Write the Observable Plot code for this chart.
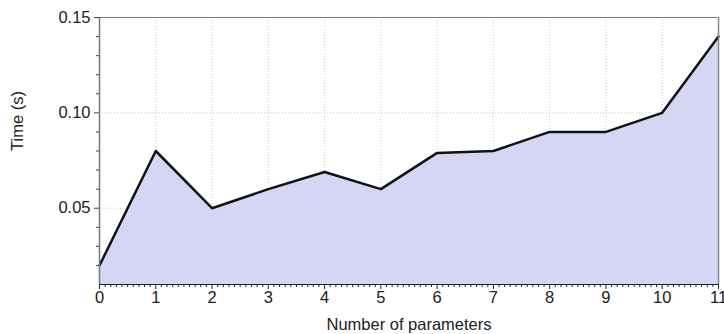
<!DOCTYPE html>
<html>
<head>
<meta charset="utf-8">
<script src="https://cdn.jsdelivr.net/npm/d3@7"></script>
<script src="https://cdn.jsdelivr.net/npm/@observablehq/plot@0.6"></script>
<style>
  html, body { margin: 0; padding: 0; background: #fff; }
  #chart svg { display: block; }
</style>
</head>
<body>
<div id="chart"></div>
<script>
const params = [0, 1, 2, 3, 4, 5, 6, 7, 8, 9, 10, 11];
const times = [0.02, 0.08, 0.05, 0.06, 0.069, 0.06, 0.079, 0.08, 0.09, 0.09, 0.10, 0.14];
const yMajorTicks = [0.05, 0.10, 0.15];
const yMinorTicks = [0.02, 0.03, 0.04, 0.06, 0.07, 0.08, 0.09, 0.11, 0.12, 0.13, 0.14];
const xMajorTicks = params;
const xMinorTicks = d3.range(0, 110).filter(i => i % 10 !== 0).map(i => i / 10);
const yDomain = [0.01, 0.15];
const xDomain = [0, 11];
const xLabel = "Number of parameters";
const yLabel = "Time (s)";

const data = params.map((p, i) => ({n: p, t: times[i]}));

const font = "'Liberation Sans', Arial, Helvetica, sans-serif";
const fmtY = d3.format(".2f");
const fmtX = d3.format("d");

const chart = Plot.plot({
  width: 724,
  height: 334,
  marginLeft: 99,
  marginRight: 6,
  marginTop: 17,
  marginBottom: 50,
  style: {fontFamily: font, fontSize: "16px", color: "#222", background: "#fff"},
  x: {domain: xDomain},
  y: {domain: yDomain},
  marks: [
    Plot.gridX(xMajorTicks, {stroke: "#c8c8c8", strokeOpacity: 1, strokeDasharray: "1,2"}),
    Plot.gridY(yMajorTicks, {stroke: "#c8c8c8", strokeOpacity: 1, strokeDasharray: "1,2"}),
    Plot.areaY(data, {x: "n", y1: yDomain[0], y2: "t", fill: "#d4d6f4", fillOpacity: 1}),
    Plot.lineY(data, {x: "n", y: "t", stroke: "#111", strokeWidth: 2.5}),
    Plot.ruleY([yDomain[1]], {stroke: "#777", strokeWidth: 1}),
    Plot.ruleX([xDomain[1]], {stroke: "#888", strokeWidth: 1.5}),
    Plot.ruleX([xDomain[0]], {stroke: "#777", strokeWidth: 1.5}),
    Plot.ruleY([yDomain[0]], {stroke: "#222", strokeWidth: 1.2}),
    Plot.axisY(yMinorTicks, {tickSize: 3, tickFormat: () => "", label: null, stroke: "#444"}),
    Plot.axisY(yMajorTicks, {tickSize: 5, tickFormat: () => "", stroke: "#444", label: null}),
    Plot.axisX(xMinorTicks, {tickSize: 3, tickFormat: () => "", label: null, stroke: "#222"}),
    Plot.axisX(xMajorTicks, {tickSize: 5, tickFormat: () => "", stroke: "#222", label: null}),
    Plot.text(yMajorTicks, {x: xDomain[0], y: d => d, text: d => fmtY(d), textAnchor: "end", dx: -9,
      fontSize: 16.5, fill: "#222"}),
    Plot.text(xMajorTicks, {x: d => d, y: yDomain[0], text: d => fmtX(d), lineAnchor: "top", dy: 7,
      fontSize: 16.5, fill: "#222"}),
    Plot.text([yLabel], {text: d => d, frameAnchor: "left", rotate: -90, dx: -82, fontSize: 16.5, fill: "#222"}),
    Plot.text([xLabel], {text: d => d, frameAnchor: "bottom", dy: 45, fontSize: 16.5, fill: "#222"})
  ]
});

document.getElementById("chart").appendChild(chart);
</script>
</body>
</html>
